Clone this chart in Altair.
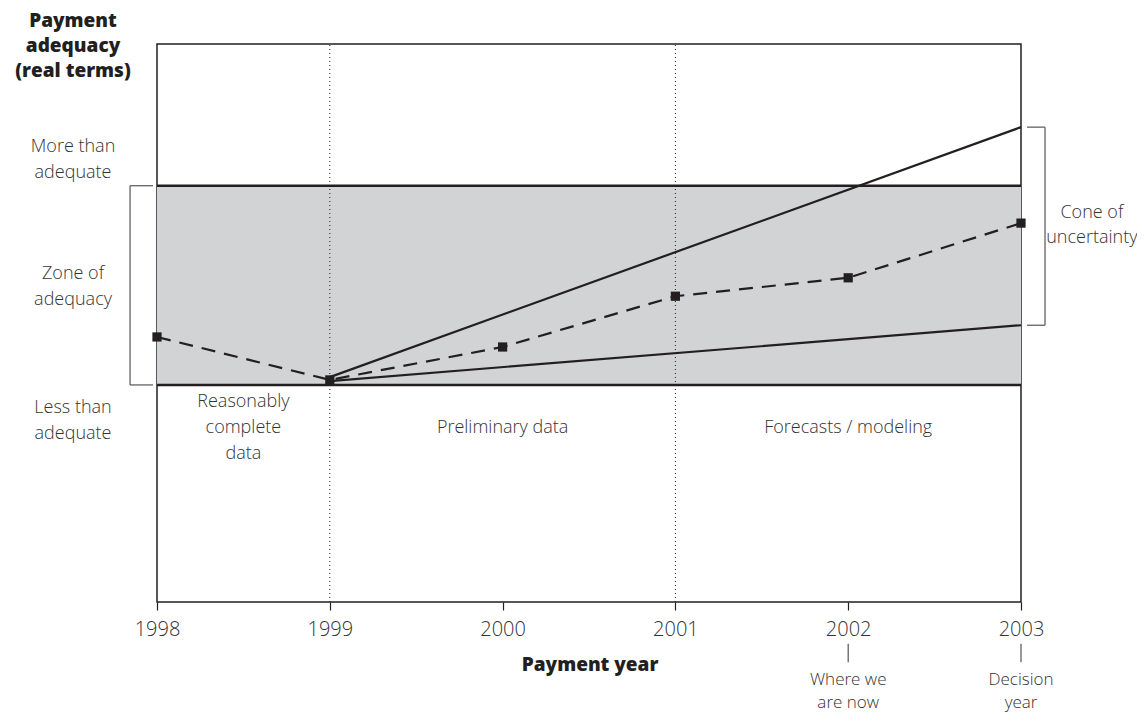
import altair as alt
import pandas as pd

# ---- data ----
years = [1998, 1999, 2000, 2001, 2002, 2003]
actual = [47.5, 39.8, 45.7, 54.8, 58.1, 67.9]
cone_years = [1999, 2003]
cone_upper = [40.3, 85.1]
cone_lower = [39.6, 49.6]
zone_low = 38.9
zone_high = 74.6
dotted_years = [1999, 2001]

# annotation text rows: (x in years, y in scale units, text)
label_x = [1997.514, 1997.514, 1997.514, 1997.514, 1997.514, 1997.514,
           1998.5, 1998.5, 1998.5, 2000.0, 2002.0,
           2003.41, 2003.41]
label_y = [81.5, 76.9, 58.8, 54.1, 34.8, 30.1,
           35.8, 31.2, 26.5, 31.2, 31.2,
           69.7, 65.2]
label_text = ["More than", "adequate", "Zone of", "adequacy", "Less than", "adequate",
              "Reasonably", "complete", "data", "Preliminary data", "Forecasts / modeling",
              "Cone of", "uncertainty"]
note_x = [2002.0, 2002.0, 2003.0, 2003.0]
note_y = [-13.9, -18.1, -13.9, -18.1]
note_text = ["Where we", "are now", "Decision", "year"]
bold_x = [1997.514, 1997.514, 1997.514, 2000.506]
bold_y = [104.1, 99.6, 95.2, -11.3]
bold_text = ["Payment", "adequacy", "(real terms)", "Payment year"]

# bracket / pointer segments (x, x2, y, y2)
seg_x = [1997.844, 1997.844, 1997.844, 2003.035, 2003.035, 2003.139, 2002.0, 2003.0]
seg_x2 = [1997.844, 1997.977, 1997.977, 2003.139, 2003.139, 2003.139, 2002.0, 2003.0]
seg_y = [38.9, 38.9, 74.6, 49.6, 85.1, 49.6, -7.5, -7.5]
seg_y2 = [74.6, 38.9, 74.6, 49.6, 85.1, 85.1, -10.8, -10.8]

ink = "#231f20"
txt = "#333333"
FONT = "Open Sans"

xs = alt.Scale(domain=[1998, 2003], nice=False, zero=False)
ys = alt.Scale(domain=[0, 100], nice=False, zero=False)

df_actual = pd.DataFrame({"year": years, "v": actual})
df_cone = pd.DataFrame({
    "year": cone_years + cone_years,
    "v": cone_upper + cone_lower,
    "s": ["upper"] * 2 + ["lower"] * 2,
})
df_zone = pd.DataFrame({"x": [years[0]], "x2": [years[-1]], "y": [zone_low], "y2": [zone_high]})
df_zone_lines = pd.DataFrame({"x": [years[0]] * 2, "x2": [years[-1]] * 2, "y": [zone_low, zone_high]})
df_dot = pd.DataFrame({"x": dotted_years, "y": [0, 0], "y2": [100, 100]})
df_seg = pd.DataFrame({"x": seg_x, "x2": seg_x2, "y": seg_y, "y2": seg_y2})
df_lab = pd.DataFrame({"x": label_x, "y": label_y, "t": label_text})
df_note = pd.DataFrame({"x": note_x, "y": note_y, "t": note_text})
df_bold = pd.DataFrame({"x": bold_x, "y": bold_y, "t": bold_text})

X = lambda f: alt.X(f, type="quantitative", scale=xs,
                    axis=alt.Axis(values=years, format="d", title=None, grid=False,
                                  domain=False, tickSize=8, tickColor=ink, tickWidth=1.2,
                                  labelFontSize=20, labelFont=FONT, labelFontWeight=300,
                                  labelColor=txt, labelPadding=9, labelFlush=False))
Y = lambda f: alt.Y(f, type="quantitative", scale=ys, axis=None)

zone = alt.Chart(df_zone).mark_rect(fill="#d1d3d4").encode(
    x=X("x"), x2="x2", y=Y("y"), y2="y2")
zone_lines = alt.Chart(df_zone_lines).mark_rule(color=ink, strokeWidth=2.5).encode(
    x=X("x"), x2="x2", y=Y("y"))
dots = alt.Chart(df_dot).mark_rule(color=ink, strokeWidth=1, strokeDash=[1, 3]).encode(
    x=X("x"), y=Y("y"), y2="y2")
cone = alt.Chart(df_cone).mark_line(color=ink, strokeWidth=2.2).encode(
    x=X("year"), y=Y("v"), detail="s:N")
act_line = alt.Chart(df_actual).mark_line(color=ink, strokeWidth=2.2, strokeDash=[14, 9]).encode(
    x=X("year"), y=Y("v"))
act_pts = alt.Chart(df_actual).mark_square(color=ink, size=85, opacity=1).encode(
    x=X("year"), y=Y("v"))
segs = alt.Chart(df_seg).mark_rule(color="#555555", strokeWidth=1.2, clip=False).encode(
    x=X("x"), x2="x2", y=Y("y"), y2="y2")
labels = alt.Chart(df_lab).mark_text(font=FONT, fontWeight=300, fontSize=18, color=txt,
                                     align="center", baseline="middle", clip=False).encode(
    x=X("x"), y=Y("y"), text="t:N")
notes = alt.Chart(df_note).mark_text(font=FONT, fontWeight=300, fontSize=17, color=txt,
                                     align="center", baseline="middle", clip=False).encode(
    x=X("x"), y=Y("y"), text="t:N")
bolds = alt.Chart(df_bold).mark_text(font=FONT, fontWeight=800, fontSize=19, color=ink,
                                     align="center", baseline="middle", clip=False).encode(
    x=X("x"), y=Y("y"), text="t:N")

chart = alt.layer(zone, zone_lines, dots, cone, act_line, act_pts, segs,
                  labels, notes, bolds).properties(
    width=864, height=558,
    autosize=alt.AutoSizeParams(type="none"),
    padding={"left": 149, "top": 36, "right": 116, "bottom": 116},
).configure_view(stroke=ink, strokeWidth=1.5)

chart.save("out.html", embed_options={"renderer": "svg", "actions": False})
